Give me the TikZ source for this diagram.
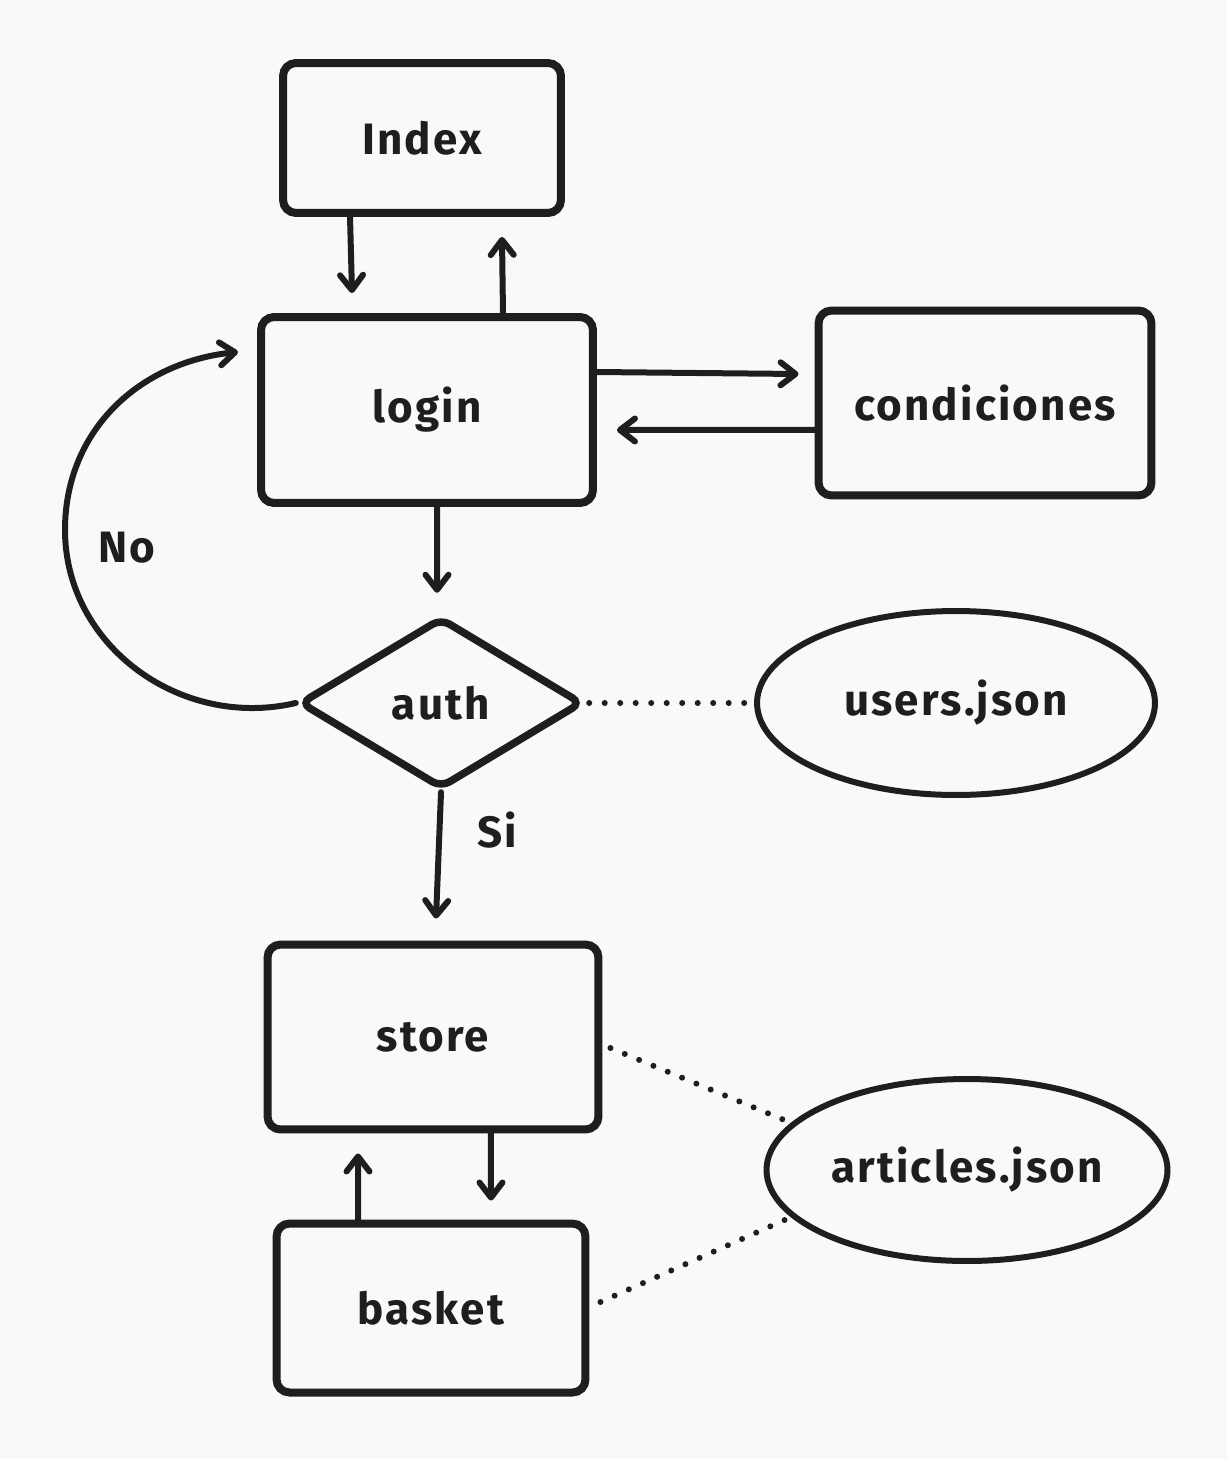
\documentclass[tikz,border=0pt]{standalone}
\usepackage{fontspec}
\setmainfont{Fira Sans}[LetterSpace=5]
\usetikzlibrary{arrows.meta,shapes.geometric}
\definecolor{ink}{HTML}{1E1E1E}
\definecolor{paper}{HTML}{F8F9FA}
\tikzset{
  box/.style={draw=ink, line width=0.16cm, rounded corners=0.26cm, inner sep=0pt},
  label/.style={text=ink, font=\fontsize{25}{28}\selectfont\bfseries},
  arr/.style={draw=ink, line width=0.12cm, line cap=round,
    -{Straight Barb[length=0.3cm,width=0.46cm,round]}},
  dots/.style={draw=ink, line width=0.12cm, line cap=round,
    dash pattern=on 0pt off 0.31cm},
}
\begin{document}
\begin{tikzpicture}[x=0.02cm,y=-0.02cm]
  \fill[paper] (0,0) rectangle (1227,1459);
  \useasboundingbox (0,0) rectangle (1227,1459);
  % pages
  \node[box, label, minimum width=5.56cm, minimum height=3cm] (Index) at (422,138) {Index};
  \node[box, label, minimum width=6.64cm, minimum height=3.72cm] (login) at (427,410) {login};
  \node[box, label, minimum width=6.66cm, minimum height=3.7cm] (condiciones) at (985,403) {condiciones};
  \node[draw=ink, line width=0.15cm, rounded corners=0.2cm, diamond, aspect=1.65,
    minimum width=5.66cm, minimum height=3.42cm, inner sep=0pt, label] (auth) at (441,703) {auth};
  \node[draw=ink, line width=0.12cm, ellipse, minimum width=7.96cm, minimum height=3.68cm, label] (users) at (956,703) {users.json};
  \node[box, label, minimum width=6.62cm, minimum height=3.7cm] (store) at (433,1037) {store};
  \node[box, label, minimum width=6.18cm, minimum height=3.38cm] (basket) at (431,1308) {basket};
  \node[draw=ink, line width=0.12cm, ellipse, minimum width=7.88cm, minimum height=3.64cm, label] (articles) at (967,1170) {articles.json};
  \coordinate (back) at (238,352);
  % flechas
  \draw[arr] ([xshift=-1.44cm]Index.south) -- ([xshift=-1.5cm,yshift=0.4cm]login.north);
  \draw[arr] ([xshift=1.52cm]login.north) -- ([xshift=1.6cm,yshift=-0.4cm]Index.south);
  \draw[arr] ([yshift=0.76cm]login.east) -- ([xshift=-0.32cm,yshift=0.58cm]condiciones.west);
  \draw[arr] ([yshift=-0.54cm]condiciones.west) -- ([xshift=0.4cm,yshift=-0.4cm]login.east);
  \draw[arr] ([xshift=0.2cm]login.south) -- ([xshift=-0.08cm,yshift=0.42cm]auth.north);
  \draw[arr] (auth.west) .. controls (180,730) and (65,645) .. (65,530)
    .. controls (65,430) and (140,362) .. (back);
  \draw[arr] (auth.south) -- ([xshift=0.06cm,yshift=0.44cm]store.north);
  \draw[arr] ([xshift=1.16cm]store.south) -- ([xshift=1.2cm,yshift=0.38cm]basket.north);
  \draw[arr] ([xshift=-1.46cm]basket.north) -- ([xshift=-1.5cm,yshift=-0.4cm]store.south);
  % datos
  \draw[dots] ([xshift=0.06cm]auth.east) -- (users.west);
  \draw[dots] ([xshift=0.16cm,yshift=-0.22cm]store.east) -- (articles.165);
  \draw[dots] ([xshift=0.22cm,yshift=0.12cm]basket.east) -- (articles.195);
  \node[label] (no) at (127,548) {No};
  \node[label] (si) at (497,830) {Si};
\end{tikzpicture}
\end{document}
